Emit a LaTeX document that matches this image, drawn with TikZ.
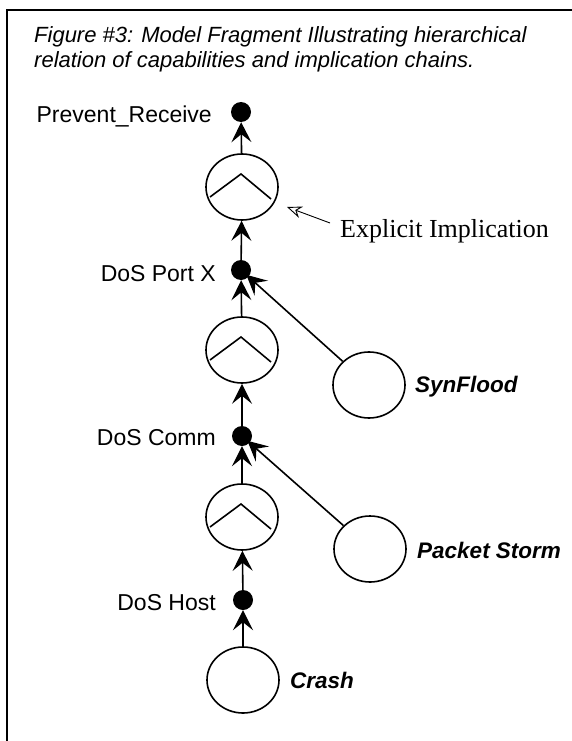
\documentclass[tikz,border=0pt]{standalone}
\usepackage{fontspec}
\setmainfont{Liberation Sans}
\newfontfamily\serifface{Liberation Serif}
\usetikzlibrary{arrows.meta,shapes.geometric}
\tikzset{
  dotnode/.style={circle,fill=black,minimum size=20pt,inner sep=0pt},
  oval/.style={ellipse,draw,line width=1.6pt,minimum width=72pt,minimum height=66pt,inner sep=0pt},
  lab/.style={font=\fontsize{23}{23}\selectfont,inner sep=0pt,anchor=base east},
  blab/.style={font=\fontsize{22.5}{22.5}\selectfont\bfseries\itshape,inner sep=0pt,anchor=west},
  ttl/.style={font=\fontsize{22}{22}\selectfont\itshape,inner sep=0pt,anchor=base west},
  arr/.style={line width=1.6pt,-{Stealth[length=20pt,width=20pt,inset=8pt]}},
  caret/.style={line width=1.6pt},
  thinarr/.style={line width=0.9pt,-{Stealth[open,length=15pt,width=12pt,inset=5pt]}}
}
\begin{document}
\begin{tikzpicture}[x=1pt,y=-1pt]
\useasboundingbox (0,0) rectangle (572,741);
% frame
\draw[line width=2pt] (572,10) -- (7,10) -- (7,741);
% title
\node[ttl] (t1) at (34,43) {Figure \#3: Model Fragment Illustrating hierarchical};
\node[ttl] (t2) at (34,68) {relation of capabilities and implication chains.};
% dots
\node[dotnode] (prev) at (241,112) {};
\node[dotnode] (portx) at (241,270) {};
\node[dotnode] (comm) at (242,436) {};
\node[dotnode] (host) at (243,600) {};
% and circles
\node[oval] (and1) at (242,187) {};
\node[oval] (and2) at (242,350) {};
\node[oval] (and3) at (242,517) {};
\foreach \n in {and1,and2,and3}{
  \draw[caret] ([shift={(-32,10)}]\n.center) -- ([shift={(-1,-13)}]\n.center) -- ([shift={(29,12)}]\n.center);
}
% leaf circles
\node[oval] (crash) at (243,680) {};
\node[oval] (syn) at (369,385) {};
\node[oval] (storm) at (370,549) {};
% labels
\node[lab] (lprev) at (212,122) {Prevent\_Receive};
\node[lab] (lportx) at (216,281) {DoS Port X};
\node[lab] (lcomm) at (216,445) {DoS Comm};
\node[lab] (lhost) at (216,610) {DoS Host};
\node[blab] (lcrash) at (290,680) {Crash};
\node[blab] (lsyn) at (415,387) {SynFlood};
\node[blab] (lstorm) at (417,550) {Packet Storm};
\node[font=\fontsize{26}{26}\selectfont\serifface,inner sep=0pt,anchor=west] (expl) at (340,231) {Explicit Implication};
% connectors
\draw[arr] (and1) -- (prev);
\draw[arr] (portx) -- (and1);
\draw[arr] (and2) -- (portx);
\draw[arr] (comm) -- (and2);
\draw[arr] (and3) -- (comm);
\draw[arr] (host) -- (and3);
\draw[arr] (crash) -- (host);
\draw[arr,shorten >=-3pt] (syn) -- (portx);
\draw[arr,shorten >=-3pt] (storm) -- (comm);
\coordinate (etail) at (330,223);
\coordinate (ehead) at (287,207);
\draw[thinarr] (etail) -- (ehead);
\end{tikzpicture}
\end{document}
